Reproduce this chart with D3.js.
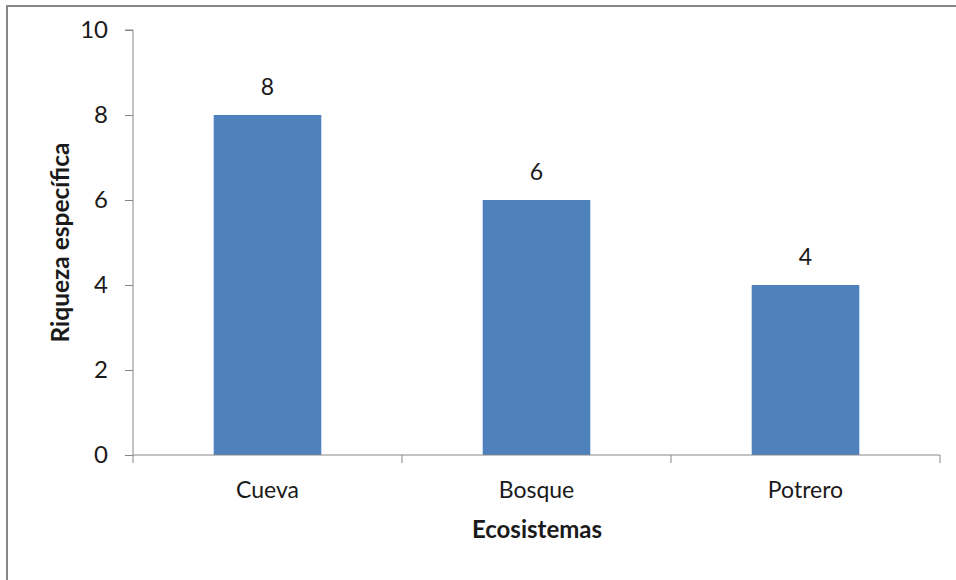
<!DOCTYPE html>
<html><head><meta charset="utf-8">
<script src="https://cdn.jsdelivr.net/npm/d3@7"></script>
<style>body{margin:0;background:#fff}svg{display:block}text{font-family:Lato,"Open Sans",sans-serif;fill:#1a1a1a}</style>
</head><body>
<svg id="c" width="956" height="580"></svg>
<script>
const categories = ["Cueva", "Bosque", "Potrero"];
const values = [8, 6, 4];
const yTicks = [0, 2, 4, 6, 8, 10];
const yTitle = "Riqueza específica";
const xTitle = "Ecosistemas";

const svg = d3.select("#c");
svg.append("rect").attr("x", 7).attr("y", 6).attr("width", 960).attr("height", 600)
  .attr("fill", "#fff").attr("stroke", "#868686").attr("stroke-width", 2);

const L = 133, R = 940, T = 30, B = 455;
const x = d3.scaleBand().domain(categories).range([L, R]).paddingInner(0.6).paddingOuter(0.3);
const y = d3.scaleLinear().domain([0, 10]).range([B, T]);
const axisCol = "#868686";

// bars
svg.selectAll(".bar").data(values).enter().append("rect")
  .attr("x", (d, i) => x(categories[i])).attr("width", x.bandwidth())
  .attr("y", d => y(d)).attr("height", d => B - y(d)).attr("fill", "#4F81BD");

// y axis
const ya = svg.append("g").attr("transform", `translate(${L},0)`)
  .call(d3.axisLeft(y).tickValues(yTicks).tickSize(8).tickPadding(17));
ya.select(".domain").attr("stroke", axisCol).attr("d", `M-8,${T}H0V${B}`);
ya.selectAll(".tick line").attr("stroke", axisCol);
ya.selectAll(".tick text").attr("font-size", 24).attr("font-family", "Lato").attr("fill", "#1a1a1a");

// x axis
const xb = d3.scaleLinear().domain([0, 3]).range([L, R]);
const xa = svg.append("g").attr("transform", `translate(0,${B})`);
xa.append("line").attr("x1", L).attr("x2", R).attr("stroke", axisCol);
xa.selectAll(".xt").data([0, 1, 2, 3]).enter().append("line")
  .attr("x1", d => xb(d)).attr("x2", d => xb(d)).attr("y1", 0).attr("y2", 8).attr("stroke", axisCol);
xa.selectAll(".xl").data(categories).enter().append("text")
  .attr("x", d => x(d) + x.bandwidth() / 2).attr("y", 43).attr("text-anchor", "middle")
  .attr("font-size", 23).text(d => d);

// data labels
svg.selectAll(".lab").data(values).enter().append("text")
  .attr("x", (d, i) => x(categories[i]) + x.bandwidth() / 2).attr("y", d => y(d) - 20)
  .attr("text-anchor", "middle").attr("font-size", 23).text(d => d);

// titles
svg.append("text").attr("transform", `translate(69,${(T + B) / 2}) rotate(-90)`)
  .attr("text-anchor", "middle").attr("font-size", 24.5).attr("font-weight", "bold").text(yTitle);
svg.append("text").attr("x", 537).attr("y", 538).attr("text-anchor", "middle")
  .attr("font-size", 24).attr("font-weight", "bold").text(xTitle);
</script>
</body></html>
